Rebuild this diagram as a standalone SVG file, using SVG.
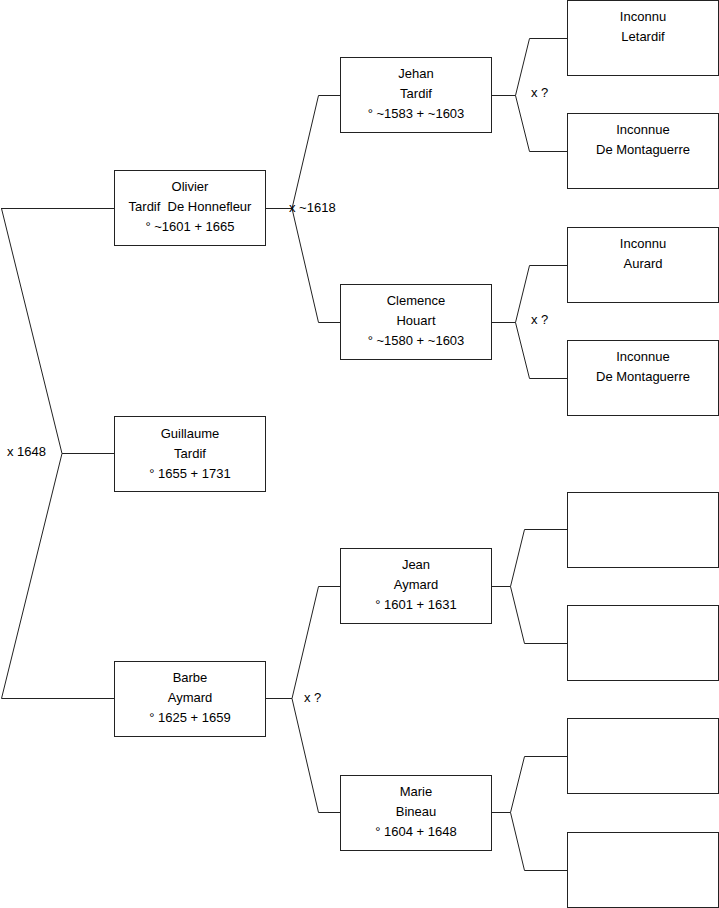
<svg xmlns="http://www.w3.org/2000/svg" width="719" height="908" viewBox="0 0 719 908">
<style>
.box{fill:#fff;stroke:#222;stroke-width:1}
.ln{fill:none;stroke:#222;stroke-width:1}
text{font-family:"Liberation Sans",Arial,sans-serif;font-size:13px;fill:#000;white-space:pre}
.c{text-anchor:middle}
</style>
<rect width="719" height="908" fill="#fff"/>
<g id="connectors">
<path class="ln" d="M1,208.5H114.5M1.5,208.5L62,453.5L1.5,698.5H114.5M62,453.5H114.5"/>
<path class="ln" d="M265.5,208.5H292L318.5,95.5H341M292,208.5L318.5,322.5H341"/>
<path class="ln" d="M491.5,95.5H515.5L529.5,38.5H567M515.5,95.5L529.5,151.5H567"/>
<path class="ln" d="M491.5,322.5H515.5L529.5,265.5H567M515.5,322.5L529.5,378.5H567"/>
<path class="ln" d="M265.5,698.5H292L318.5,586.5H341M292,698.5L318.5,812.5H341"/>
<path class="ln" d="M491.5,586.5H510.5L524.5,529.5H567M510.5,586.5L524.5,643.5H567"/>
<path class="ln" d="M491.5,812.5H510.5L524.5,756.5H567M510.5,812.5L524.5,870.5H567"/>
<text x="7" y="456">x 1648</text>
<text x="289" y="212">x ~1618</text>
<text x="531" y="97">x ?</text>
<text x="531" y="324">x ?</text>
<text x="304" y="702">x ?</text>
</g>
<g id="olivier"><rect class="box" x="114.5" y="170.5" width="151" height="75"/>
<text class="c" x="190" y="191">Olivier</text><text class="c" x="190" y="211" xml:space="preserve">Tardif  De Honnefleur</text><text class="c" x="190" y="231">° ~1601 + 1665</text></g>
<g id="guillaume"><rect class="box" x="114.5" y="416.5" width="151" height="75"/>
<text class="c" x="190" y="438">Guillaume</text><text class="c" x="190" y="458">Tardif</text><text class="c" x="190" y="478">° 1655 + 1731</text></g>
<g id="barbe"><rect class="box" x="114.5" y="661.5" width="151" height="75"/>
<text class="c" x="190" y="682">Barbe</text><text class="c" x="190" y="702">Aymard</text><text class="c" x="190" y="722">° 1625 + 1659</text></g>
<g id="jehan"><rect class="box" x="340.5" y="57.5" width="151" height="75"/>
<text class="c" x="416" y="78">Jehan</text><text class="c" x="416" y="98">Tardif</text><text class="c" x="416" y="118">° ~1583 + ~1603</text></g>
<g id="clemence"><rect class="box" x="340.5" y="284.5" width="151" height="75"/>
<text class="c" x="416" y="305">Clemence</text><text class="c" x="416" y="325">Houart</text><text class="c" x="416" y="345">° ~1580 + ~1603</text></g>
<g id="jean"><rect class="box" x="340.5" y="548.5" width="151" height="75"/>
<text class="c" x="416" y="569">Jean</text><text class="c" x="416" y="589">Aymard</text><text class="c" x="416" y="609">° 1601 + 1631</text></g>
<g id="marie"><rect class="box" x="340.5" y="775.5" width="151" height="75"/>
<text class="c" x="416" y="796">Marie</text><text class="c" x="416" y="816">Bineau</text><text class="c" x="416" y="836">° 1604 + 1648</text></g>
<g id="letardif"><rect class="box" x="567.5" y="0.5" width="151" height="75"/>
<text class="c" x="643" y="21">Inconnu</text><text class="c" x="643" y="41">Letardif</text></g>
<g id="montaguerre1"><rect class="box" x="567.5" y="113.5" width="151" height="75"/>
<text class="c" x="643" y="134">Inconnue</text><text class="c" x="643" y="154">De Montaguerre</text></g>
<g id="aurard"><rect class="box" x="567.5" y="227.5" width="151" height="75"/>
<text class="c" x="643" y="248">Inconnu</text><text class="c" x="643" y="268">Aurard</text></g>
<g id="montaguerre2"><rect class="box" x="567.5" y="340.5" width="151" height="75"/>
<text class="c" x="643" y="361">Inconnue</text><text class="c" x="643" y="381">De Montaguerre</text></g>
<g id="empty1"><rect class="box" x="567.5" y="492.5" width="151" height="75"/></g>
<g id="empty2"><rect class="box" x="567.5" y="605.5" width="151" height="75"/></g>
<g id="empty3"><rect class="box" x="567.5" y="718.5" width="151" height="75"/></g>
<g id="empty4"><rect class="box" x="567.5" y="832.5" width="151" height="75"/></g>
</svg>
